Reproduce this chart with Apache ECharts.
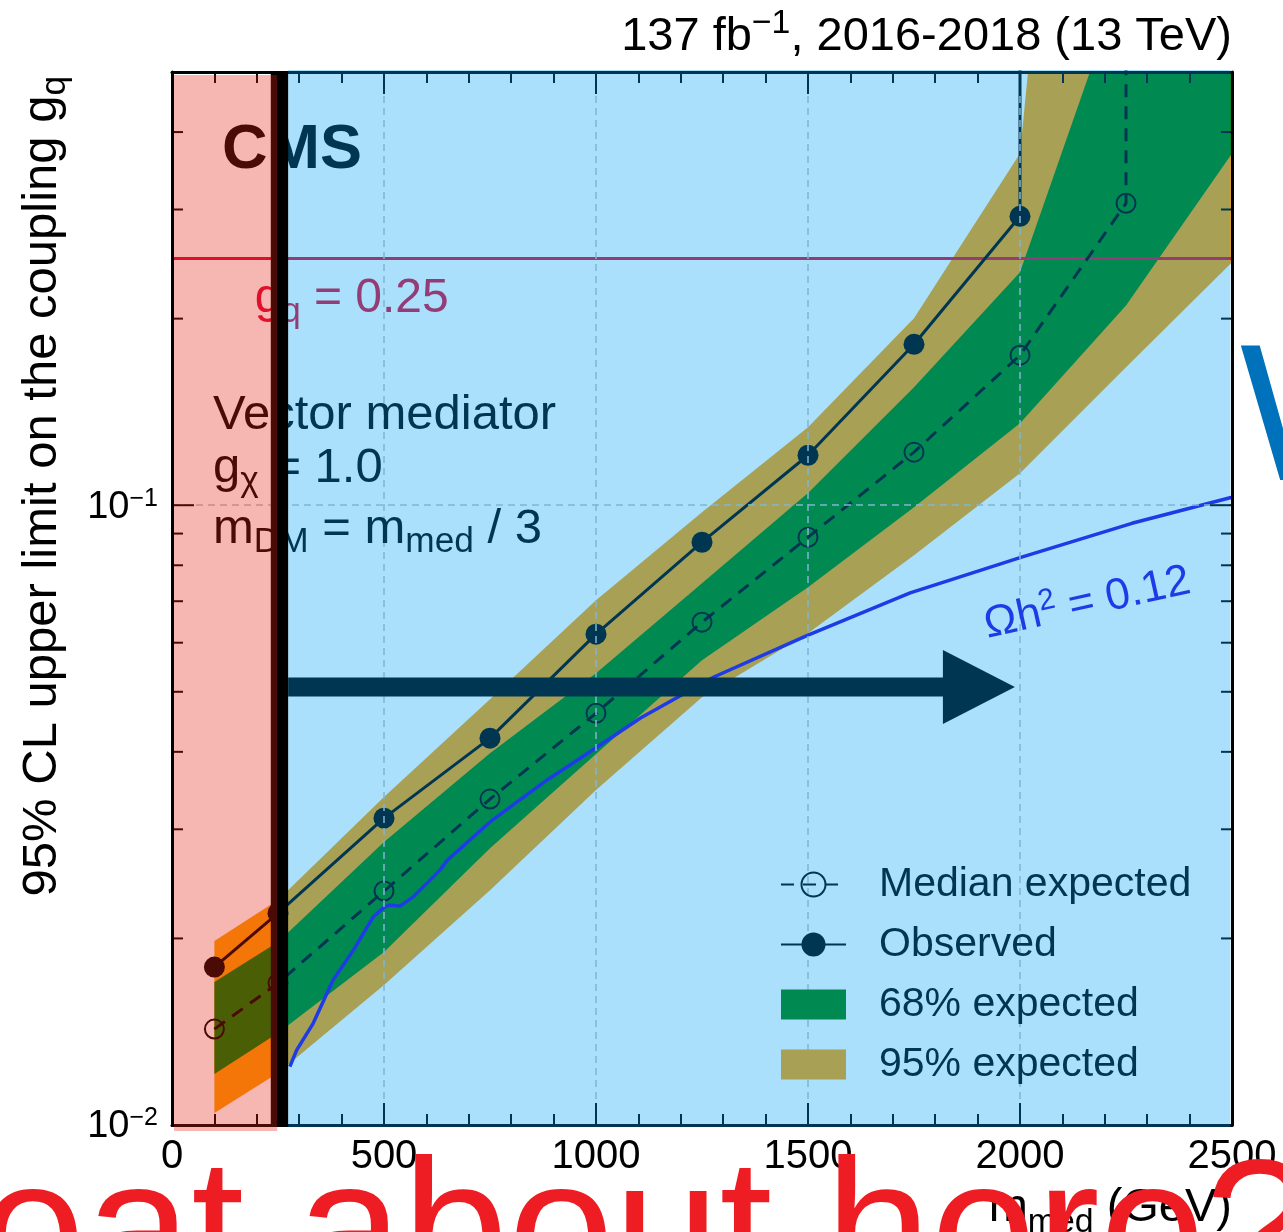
<!DOCTYPE html>
<html><head><meta charset="utf-8">
<script src="https://cdn.jsdelivr.net/npm/echarts@6.0.0/dist/echarts.min.js"></script>
<style>html,body{margin:0;padding:0;background:#fff;overflow:hidden}#c{width:1283px;height:1232px}</style>
</head><body><div id="c"></div>
<script>
// ---------------- data ----------------
const obsMass      = [100, 250, 500, 750, 1000, 1250, 1500, 1750, 2000, 2000];
const observed     = [0.01798, 0.02197, 0.03127, 0.04209, 0.06193, 0.08716, 0.1204, 0.1818, 0.2925, 1.0];
const expMass      = [100, 250, 500, 750, 1000, 1250, 1500, 1750, 2000, 2250, 2250];
const expected     = [0.01428, 0.01694, 0.02385, 0.03356, 0.04617, 0.06476, 0.08879, 0.1218, 0.1746, 0.3070, 1.0];
const bandMass     = [100, 250, 500, 750, 1000, 1250, 1500, 1750, 2000, 2250, 2500];
const band95Up     = [0.01981, 0.02307, 0.03381, 0.04865, 0.07027, 0.09743, 0.1336, 0.2003, 0.3695, 20, 100];
const band68Up     = [0.01701, 0.01974, 0.02861, 0.03981, 0.05358, 0.07485, 0.1046, 0.1550, 0.2376, 0.734, 2.26];
const band68Down   = [0.01209, 0.01407, 0.01901, 0.02797, 0.03967, 0.05623, 0.07374, 0.09926, 0.1356, 0.2101, 0.3695];
const band95Down   = [0.01046, 0.01213, 0.01682, 0.02393, 0.03470, 0.04901, 0.06216, 0.08306, 0.1126, 0.1669, 0.2465];
const relicMass    = [278, 294, 333, 380, 428, 475, 500, 514, 538, 569, 601, 632, 649, 750, 884, 1002, 1104, 1278, 1500, 1741, 2002, 2264, 2500];
const relicCoupl   = [0.01242, 0.01321, 0.01459, 0.01714, 0.01915, 0.02168, 0.02244, 0.02265, 0.02255, 0.02334, 0.02454, 0.02578, 0.02673, 0.03083, 0.0360, 0.0407, 0.04532, 0.05282, 0.0617, 0.0722, 0.0824, 0.0935, 0.1030];
const gqMass       = [0, 2500];
const gqValue      = [0.25, 0.25];
const xTickLabels  = ['0', '500', '1000', '1500', '2000', '2500'];
const yMajorTicks  = [0.1];
const yMinorTicks  = [0.02, 0.03, 0.04, 0.05, 0.06, 0.07, 0.08, 0.09, 0.2, 0.3, 0.4];
const legendNames  = ['Median expected', 'Observed', '68% expected', '95% expected'];

// ---------------- styling / layout ----------------
const FONT = '"Liberation Sans", Arial, Helvetica, sans-serif';
const BASE = 0.3465;
const C95 = '#FC9F05', C68 = '#007F00', CRELIC = '#2D09DE', CGQ = '#DE0937';
const GRID = {left: 172, top: 72, right: 51, bottom: 107};

function richLine(fs, o) {
  o = o || {};
  const fsP = fs * (o.supRatio || 0.68), fsB = fs * (o.subRatio || 0.72);
  const k = 0.5 + BASE;
  const supRaise = o.supRaise || 0, subDrop = o.subDrop || 0;
  const T = Math.max(0, fsP * k + supRaise - fs * k);
  const main = T + fs * k;
  const Pp = main - supRaise - fsP * k;
  const Pb = main + subDrop - fsB * k;
  const c = {fontFamily: FONT, fill: o.color || '#000', color: o.color || '#000', fontWeight: o.weight || 'normal', verticalAlign: 'top'};
  return {
    main: main,
    rich: {
      n: Object.assign({}, c, {fontSize: fs, lineHeight: fs, padding: [T, 0, 0, 0]}),
      p: Object.assign({}, c, {fontSize: fsP, lineHeight: fsP, padding: [Pp, 0, 0, 0]}),
      b: Object.assign({}, c, {fontSize: fsB, lineHeight: fsB, padding: [Pb, 0, 0, 0]})
    }
  };
}

function bandSeries(name, lo, hi, color) {
  return {
    type: 'custom', name: name, coordinateSystem: 'cartesian2d', clip: true, silent: true, z: 2,
    itemStyle: {color: color},
    data: bandMass.map((m, i) => [m, lo[i], hi[i]]),
    encode: {x: 0, y: [1, 2]},
    renderItem: function (params, api) {
      if (params.dataIndex !== 0) return null;
      const pts = [];
      for (let i = 0; i < bandMass.length; i++) pts.push(api.coord([bandMass[i], hi[i]]));
      for (let i = bandMass.length - 1; i >= 0; i--) pts.push(api.coord([bandMass[i], lo[i]]));
      const cs = params.coordSys;
      return {type: 'polygon', shape: {points: pts}, style: {fill: color},
              clipPath: {type: 'rect', shape: {x: cs.x, y: cs.y, width: cs.width, height: cs.height}}};
    }
  };
}

const chart = echarts.init(document.getElementById('c'), null, {renderer: 'canvas'});

const splitStyle = {color: '#C0C0C0', width: 1.5, type: [7, 5]};
const axisLineStyle = {color: '#000', width: 3};

const option = {
  animation: false,
  backgroundColor: '#ffffff',
  grid: Object.assign({containLabel: false, outerBoundsMode: 'none'}, GRID),
  legend: {
    orient: 'vertical', left: 780, top: 864, padding: 0, itemGap: 19,
    itemWidth: 65, itemHeight: 30, selectedMode: false, z: 5,
    textStyle: {fontSize: 41, color: '#000', fontFamily: FONT, padding: [0, 0, 0, 28]},
    data: [
      {name: legendNames[0]}, {name: legendNames[1]},
      {name: legendNames[2], icon: 'rect'}, {name: legendNames[3], icon: 'rect'}
    ]
  },
  xAxis: [
    {type: 'value', min: 0, max: 2500, interval: 500, position: 'bottom', z: 3,
     axisLine: {show: true, onZero: false, lineStyle: axisLineStyle},
     axisTick: {show: true, inside: true, length: 22, lineStyle: {color: '#000', width: 2}},
     minorTick: {show: true, splitNumber: 5, length: 11, lineStyle: {color: '#000', width: 2}},
     axisLabel: {show: true, margin: 12, fontSize: 40, color: '#000', fontFamily: FONT,
                 formatter: v => xTickLabels[Math.round(v / 500)] || ''},
     splitLine: {show: true, lineStyle: splitStyle}},
    {type: 'value', min: 0, max: 2500, interval: 500, position: 'top', z: 3,
     axisLine: {show: true, onZero: false, lineStyle: axisLineStyle},
     axisTick: {show: true, inside: true, length: 22, lineStyle: {color: '#000', width: 2}},
     minorTick: {show: true, splitNumber: 5, length: 11, lineStyle: {color: '#000', width: 2}},
     axisLabel: {show: false}, splitLine: {show: false}}
  ],
  yAxis: [
    {type: 'log', logBase: 10, min: 0.01, max: 0.5, position: 'left', z: 3,
     axisLine: {show: true, onZero: false, lineStyle: axisLineStyle},
     axisTick: {show: false}, minorTick: {show: false},
     axisLabel: {show: true, margin: 14, fontFamily: FONT, color: '#000',
       formatter: function (v) {
         if (Math.abs(v - 0.01) < 1e-9) return '{m|10}{s|\u22122}';
         if (Math.abs(v - 0.1) < 1e-9) return '{m|10}{s|\u22121}';
         return '';
       },
       rich: {
         m: {fontSize: 38, lineHeight: 38, padding: [2, 0, 2, 0], verticalAlign: 'top', fontFamily: FONT, color: '#000'},
         s: {fontSize: 25, lineHeight: 25, verticalAlign: 'top', fontFamily: FONT, color: '#000'}
       }},
     splitLine: {show: true, lineStyle: splitStyle}},
    {type: 'log', logBase: 10, min: 0.01, max: 0.5, position: 'right', z: 3,
     axisLine: {show: true, onZero: false, lineStyle: axisLineStyle},
     axisTick: {show: false}, minorTick: {show: false}, axisLabel: {show: false}, splitLine: {show: false}}
  ],
  series: [
    bandSeries('95% expected', band95Down, band95Up, C95),
    bandSeries('68% expected', band68Down, band68Up, C68),
    {type: 'line', name: 'gq', data: gqMass.map((m, i) => [m, gqValue[i]]), symbol: 'none', z: 2,
     lineStyle: {color: CGQ, width: 3}, silent: true},
    {type: 'line', name: 'relic', data: relicMass.map((m, i) => [m, relicCoupl[i]]), symbol: 'none', z: 2,
     lineStyle: {color: CRELIC, width: 3.5}, silent: true},
    {type: 'line', name: 'Median expected', z: 2, silent: true,
     data: expMass.map((m, i) => (i === expMass.length - 1 ? {value: [m, expected[i]], symbol: 'none'} : [m, expected[i]])),
     symbol: 'circle', symbolSize: 19,
     itemStyle: {color: 'rgba(0,0,0,0)', borderColor: '#000', borderWidth: 2},
     lineStyle: {color: '#000', width: 3, type: [13, 9]}},
    {type: 'line', name: 'Observed', z: 2, silent: true,
     data: obsMass.map((m, i) => (i === obsMass.length - 1 ? {value: [m, observed[i]], symbol: 'none'} : [m, observed[i]])),
     symbol: 'circle', symbolSize: 21,
     itemStyle: {color: '#000'},
     lineStyle: {color: '#000', width: 3}},
    {type: 'custom', name: 'yticks', coordinateSystem: 'cartesian2d', silent: true, z: 3,
     data: [[1000, 0.1]],
     renderItem: function (params, api) {
       if (params.dataIndex !== 0) return null;
       const cs = params.coordSys, ch = [];
       const add = (v, len) => {
         const y = api.coord([0, v])[1];
         ch.push({type: 'line', shape: {x1: cs.x, y1: y, x2: cs.x + len, y2: y}, style: {stroke: '#000', lineWidth: 2}});
         ch.push({type: 'line', shape: {x1: cs.x + cs.width - len, y1: y, x2: cs.x + cs.width, y2: y}, style: {stroke: '#000', lineWidth: 2}});
       };
       yMajorTicks.forEach(v => add(v, 22));
       yMinorTicks.forEach(v => add(v, 11));
       return {type: 'group', children: ch};
     }}
  ]
};
chart.setOption(option);

// ---------------- annotations placed through the axes ----------------
const P = (x, y) => chart.convertToPixel({xAxisIndex: 0, yAxisIndex: 0}, [x, y]);
const tl = P(0, 0.5), br = P(2500, 0.01);
const gx0 = tl[0], gyT = tl[1], gx1 = br[0], gyB = br[1];
const BAR_FROM = 233, BAR_TO = 274, PINK_TO = 248;   // GeV
const barL = P(BAR_FROM, 0.1)[0], barR = P(BAR_TO, 0.1)[0], pinkR = P(PINK_TO, 0.1)[0];

function txt(text, x, baseline, fs, o, extra) {
  const r = richLine(fs, o);
  return Object.assign({
    type: 'text', x: x, y: baseline - r.main, z: 4,
    style: {text: text, rich: r.rich, align: (o && o.align) || 'left', verticalAlign: 'top'}
  }, extra || {});
}

const g = [];
g.push(txt('{n|CMS}', gx0 + 50, gyT + 100, 63, {weight: 'bold'}));
g.push(txt('{n|Vector mediator}', gx0 + 41, gyT + 360, 49, {}));
g.push(txt('{n|g}{b|\u03c7}{n| = 1.0}', gx0 + 41, gyT + 413, 49, {subDrop: 9}));
g.push(txt('{n|m}{b|DM}{n| = m}{b|med}{n| / 3}', gx0 + 41, gyT + 474, 49, {subDrop: 9}));
const gqPt = P(195, 0.25);
g.push(txt('{n|g}{b|q}{n| = 0.25}', gqPt[0], gqPt[1] + 57, 48, {subDrop: 9, color: CGQ}));
const th = 0.218;
const rl = richLine(44, {supRaise: 16, color: CRELIC});
const rp = P(1925, 0.0604);
g.push({type: 'text', x: rp[0] - rl.main * Math.sin(th), y: rp[1] - rl.main * Math.cos(th), rotation: th, z: 4,
        style: {text: '{n|\u03a9h}{p|2}{n| = 0.12}', rich: rl.rich, align: 'left', verticalAlign: 'top'}});
const aS = P(BAR_TO, 0.0509), aT = P(1988, 0.0509);
const yc = aS[1], hw = 9.5, hh = 37, hl = 72;
g.push({type: 'polygon', z: 6, shape: {points: [
  [aS[0], yc - hw], [aT[0] - hl, yc - hw], [aT[0] - hl, yc - hh], [aT[0], yc],
  [aT[0] - hl, yc + hh], [aT[0] - hl, yc + hw], [aS[0], yc + hw]]}, style: {fill: '#000'}});
g.push({type: 'rect', z: 7, shape: {x: barL, y: gyT, width: barR - barL, height: gyB - gyT}, style: {fill: '#000'}});
g.push({type: 'rect', z: 10, shape: {x: gx0 + 2, y: gyT + 3, width: pinkR - gx0 - 2, height: gyB - gyT + 3}, style: {fill: 'rgba(228,31,15,0.325)'}});
g.push({type: 'rect', z: 10, shape: {x: barR, y: gyT - 2, width: gx1 - 1.5 - barR, height: gyB - gyT + 4}, style: {fill: 'rgba(0,162,246,0.333)'}});
g.push(txt('{n|137 fb}{p|\u22121}{n|, 2016-2018 (13 TeV)}', gx1, 53, 47, {supRaise: 18, supRatio: 0.72, align: 'right'}, {z: 11}));
const yt = richLine(49, {subDrop: 9});
g.push({type: 'text', x: 59 - yt.main, y: gyT + 4, rotation: Math.PI / 2, z: 11,
        style: {text: '{n|95% CL upper limit on the coupling g}{b|q}', rich: yt.rich, align: 'right', verticalAlign: 'top'}});
g.push(txt('{n|m}{b|med}{n| (GeV)}', gx1, 1224, 47, {subDrop: 10, align: 'right'}, {z: 11}));
g.push({type: 'text', x: 1240, y: 494 - 194 * BASE, z: 12,
        style: {text: 'W', fontSize: 194, fontFamily: FONT, fill: '#0072BC', align: 'left', verticalAlign: 'middle'}});
g.push({type: 'text', x: -20, y: 1304 - 190 * BASE, z: 12,
        style: {text: 'eat about here?', fontSize: 190, fontFamily: FONT, fill: '#EE1D23', align: 'left', verticalAlign: 'middle'}});
chart.setOption({graphic: g});
</script></body></html>
